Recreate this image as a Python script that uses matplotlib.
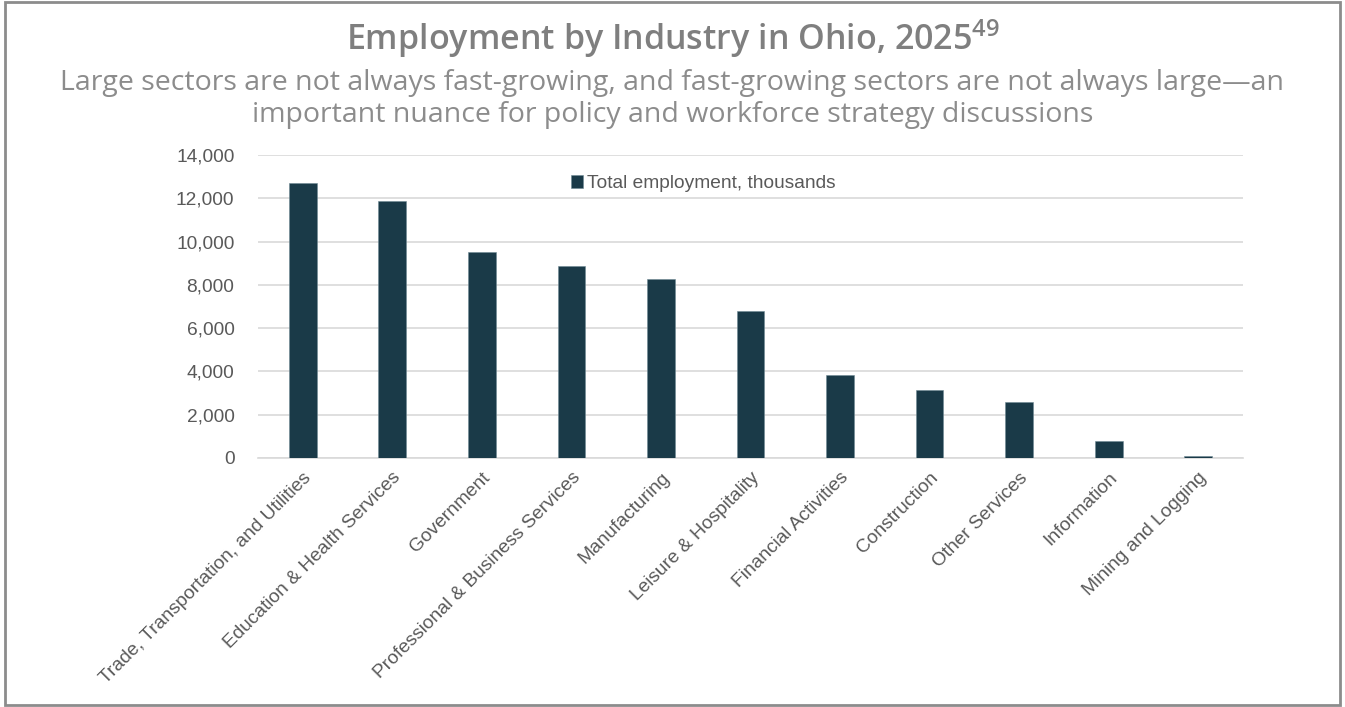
import numpy as np
import matplotlib.pyplot as plt
from matplotlib.patches import Rectangle
from matplotlib.ticker import FuncFormatter

industries = ['Trade, Transportation, and Utilities', 'Education & Health Services',
              'Government', 'Professional & Business Services', 'Manufacturing',
              'Leisure & Hospitality', 'Financial Activities', 'Construction',
              'Other Services', 'Information', 'Mining and Logging']
employment = [12720, 11880, 9500, 8860, 8270, 6790, 3850, 3160, 2600, 800, 100]
yticks = [0, 2000, 4000, 6000, 8000, 10000, 12000, 14000]

bar_color = '#1a3a48'
text_gray = '#595959'
fs = 13.8

fig = plt.figure(figsize=(13.45, 7.07), dpi=100)
ax = fig.add_axes([258 / 1345, 1 - 458 / 707, 985 / 1345, 303 / 707])

x = np.arange(len(industries))
ax.bar(x, employment, width=0.31, color=bar_color, edgecolor='#6f8a94',
       linewidth=0.4, label='Total employment, thousands', zorder=3)

ax.set_xlim(-0.5, len(industries) - 0.5)
ax.set_ylim(0, 14000)
ax.set_yticks(yticks)
ax.yaxis.set_major_formatter(FuncFormatter(lambda v, p: f'{int(v):,}'))
ax.grid(axis='y', color='#d9d9d9', linewidth=1.2, zorder=0)
for s in ['top', 'right', 'left']:
    ax.spines[s].set_visible(False)
ax.spines['bottom'].set_color('#d9d9d9')
ax.spines['bottom'].set_linewidth(1.2)
ax.tick_params(axis='both', length=0, labelsize=fs, labelcolor=text_gray)
ax.tick_params(axis='y', pad=17)
ax.tick_params(axis='x', pad=8)
ax.set_xticks(x)
ax.set_xticklabels(industries, rotation=45, ha='right', rotation_mode='anchor',
                   family='Liberation Sans')
for t in ax.get_yticklabels():
    t.set_family('Liberation Sans')

leg = ax.legend(loc='center', bbox_to_anchor=(0.452, 0.905), frameon=False,
                handlelength=0.6, handleheight=0.6, handletextpad=0.2,
                prop={'family': 'Liberation Sans', 'size': fs})
for t in leg.get_texts():
    t.set_color(text_gray)

fig.text(0.5, 1 - 39 / 707, r'Employment by Industry in Ohio, 2025$^{\mathregular{49}}$',
         ha='center', va='center', fontsize=24.5, fontweight='semibold',
         color='#7f7f7f', family='Open Sans')
fig.text(0.5, 1 - 99 / 707,
         'Large sectors are not always fast-growing, and fast-growing sectors are not always large\u2014an\n'
         'important nuance for policy and workforce strategy discussions',
         ha='center', va='center', fontsize=20.5, color='#8c8c8c', family='Open Sans',
         linespacing=1.15)

fig.patches.append(Rectangle((0.004, 0.003), 0.992, 0.994, transform=fig.transFigure,
                             fill=False, edgecolor='#8c8c8c', linewidth=2))

fig.savefig('out.png', dpi=100)
